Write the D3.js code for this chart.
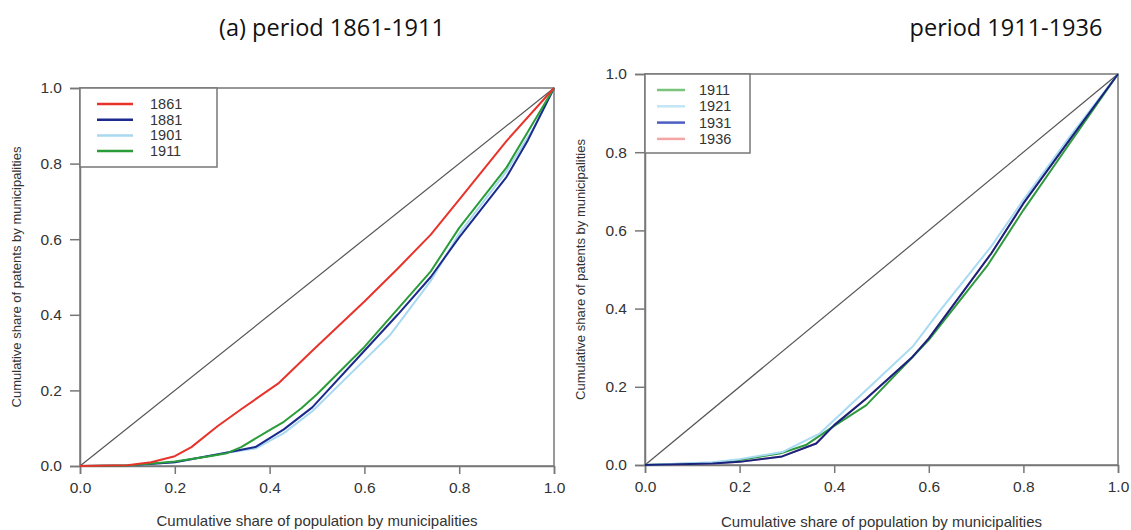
<!DOCTYPE html>
<html><head><meta charset="utf-8">
<script src="https://cdn.jsdelivr.net/npm/d3@7"></script>
<style>body{margin:0;background:#fff}svg{display:block;font-family:"Liberation Sans",Arial,sans-serif}</style>
</head><body>
<svg id="c" width="1131" height="530"></svg>
<script>
// ---- data ----
const ticks = [0, 0.2, 0.4, 0.6, 0.8, 1.0];
const titles = ["(a) period 1861-1911", "period 1911-1936"];
const xTitle = "Cumulative share of population by municipalities";
const yTitle = "Cumulative share of patents by municipalities";

const leftYears = ["1861", "1881", "1901", "1911"];
const leftColors = ["#e8332b", "#1b2a8c", "#a9d8f1", "#2a9d3a"];
const s1861 = [[0,0],[0.1,0.002],[0.15,0.01],[0.2,0.026],[0.235,0.05],[0.29,0.105],[0.34,0.15],[0.42,0.22],[0.49,0.305],[0.6,0.435],[0.67,0.522],[0.74,0.612],[0.8,0.705],[0.9,0.86],[1,1]];
const s1881 = [[0,0],[0.1,0.001],[0.2,0.01],[0.3,0.033],[0.37,0.05],[0.43,0.097],[0.49,0.155],[0.6,0.305],[0.67,0.4],[0.74,0.5],[0.8,0.605],[0.9,0.765],[0.945,0.862],[1,1]];
const s1901 = [[0,0],[0.1,0.001],[0.2,0.01],[0.3,0.033],[0.37,0.046],[0.43,0.087],[0.49,0.145],[0.6,0.28],[0.655,0.348],[0.74,0.49],[0.8,0.615],[0.9,0.78],[0.96,0.9],[1,1]];
const s1911 = [[0,0],[0.1,0.001],[0.2,0.012],[0.27,0.025],[0.31,0.034],[0.34,0.05],[0.4,0.095],[0.43,0.117],[0.467,0.153],[0.5,0.19],[0.6,0.315],[0.67,0.415],[0.74,0.515],[0.8,0.63],[0.9,0.79],[1,1]];

const rightYears = ["1911", "1921", "1931", "1936"];
const rightLineColors = ["#2e9a3e", "#a9dbf3", "#17237e", "#f4a0a0"];
const rightLegendColors = ["#78c47b", "#c2e5f7", "#4b5ec1", "#f6a5a5"];
const r1911 = [[0,0],[0.143,0.006],[0.2,0.013],[0.287,0.03],[0.34,0.051],[0.4,0.1],[0.468,0.153],[0.566,0.277],[0.6,0.32],[0.725,0.512],[0.8,0.652],[0.898,0.823],[1,1]];
const r1921 = [[0,0],[0.143,0.007],[0.2,0.015],[0.29,0.033],[0.37,0.081],[0.4,0.115],[0.566,0.303],[0.619,0.388],[0.732,0.559],[0.8,0.678],[0.898,0.84],[1,1]];
const r1931 = [[0,0],[0.143,0.004],[0.2,0.008],[0.29,0.022],[0.362,0.055],[0.4,0.102],[0.468,0.17],[0.566,0.277],[0.6,0.324],[0.732,0.541],[0.8,0.669],[0.898,0.832],[1,1]];
const r1936 = [[0,0],[0.143,0.004],[0.2,0.008],[0.29,0.022],[0.362,0.055],[0.4,0.102],[0.468,0.17],[0.566,0.277],[0.6,0.324],[0.732,0.541],[0.8,0.669],[0.898,0.832],[1,1]];

const svg = d3.select("#c");

function panel(cfg) {
  const x = d3.scaleLinear().domain([0, 1]).range([cfg.x0, cfg.x1]);
  const y = d3.scaleLinear().domain([0, 1]).range([cfg.y0, cfg.y1]);
  const g = svg.append("g");
  // title
  g.append("text").attr("x", cfg.tx).attr("y", 36).attr("text-anchor", "middle")
    .attr("font-size", 23.5).attr("fill", "#111").attr("font-family", "'Open Sans',sans-serif").text(cfg.title);
  // box
  g.append("rect").attr("x", x(0)).attr("y", y(1)).attr("width", x(1) - x(0)).attr("height", y(0) - y(1))
    .attr("fill", "none").attr("stroke", "#777").attr("stroke-width", 1.5);
  // axes
  const ax = g.append("g").attr("transform", `translate(0,${y(0)})`)
    .call(d3.axisBottom(x).tickValues(ticks).tickFormat(d3.format(".1f")).tickSize(8).tickPadding(8));
  const ay = g.append("g").attr("transform", `translate(${x(0)},0)`)
    .call(d3.axisLeft(y).tickValues(ticks).tickFormat(d3.format(".1f")).tickSize(10).tickPadding(8));
  [ax, ay].forEach(a => {
    a.select(".domain").attr("stroke", "#777").attr("stroke-width", 1.5);
    a.selectAll(".tick line").attr("stroke", "#777").attr("stroke-width", 1.5);
    a.selectAll(".tick text").attr("font-size", 15.5).attr("fill", "#333").attr("font-family", "'Liberation Sans',Arial,sans-serif");
  });
  // axis titles
  g.append("text").attr("x", (x(0) + x(1)) / 2).attr("y", cfg.xty).attr("text-anchor", "middle")
    .attr("font-size", 15).attr("fill", "#333").text(xTitle);
  g.append("text").attr("transform", `translate(${cfg.ytx},${(y(0) + y(1)) / 2}) rotate(-90)`)
    .attr("text-anchor", "middle").attr("font-size", 13).attr("fill", "#333").text(yTitle);
  // diagonal
  g.append("line").attr("x1", x(0)).attr("y1", y(0)).attr("x2", x(1)).attr("y2", y(1))
    .attr("stroke", "#555").attr("stroke-width", 1.2);
  const line = d3.line().x(d => x(d[0])).y(d => y(d[1]));
  cfg.order.forEach(i => {
    g.append("path").datum(cfg.series[i]).attr("d", line).attr("fill", "none")
      .attr("stroke", cfg.lineColors[i]).attr("stroke-width", 2).attr("stroke-linejoin", "round");
  });
  // legend
  const L = cfg.leg;
  g.append("rect").attr("x", x(0)).attr("y", y(1)).attr("width", L.w).attr("height", L.h)
    .attr("fill", "#fff").attr("stroke", "#777").attr("stroke-width", 1.5);
  cfg.years.forEach((yr, i) => {
    const yy = L.y0 + i * L.dy;
    g.append("line").attr("x1", L.lx0).attr("x2", L.lx1).attr("y1", yy).attr("y2", yy)
      .attr("stroke", cfg.legColors[i]).attr("stroke-width", 2.5);
    g.append("text").attr("x", L.tx).attr("y", yy + 5).attr("font-size", 14.5).attr("fill", "#333").text(yr);
  });
}

panel({x0: 80, x1: 554, y0: 466, y1: 88, tx: 332, title: titles[0], xty: 526, ytx: 21,
  series: [s1861, s1881, s1901, s1911], years: leftYears, lineColors: leftColors, legColors: leftColors,
  order: [2, 1, 3, 0],
  leg: {w: 137, h: 79, y0: 104, dy: 15.7, lx0: 97, lx1: 133, tx: 150}});
panel({x0: 645, x1: 1118, y0: 465, y1: 74, tx: 1006, title: titles[1], xty: 527, ytx: 585,
  series: [r1911, r1921, r1931, r1936], years: rightYears, lineColors: rightLineColors, legColors: rightLegendColors,
  order: [3, 0, 1, 2],
  leg: {w: 105, h: 79, y0: 90, dy: 16.3, lx0: 657, lx1: 685, tx: 699}});
</script>
</body></html>
